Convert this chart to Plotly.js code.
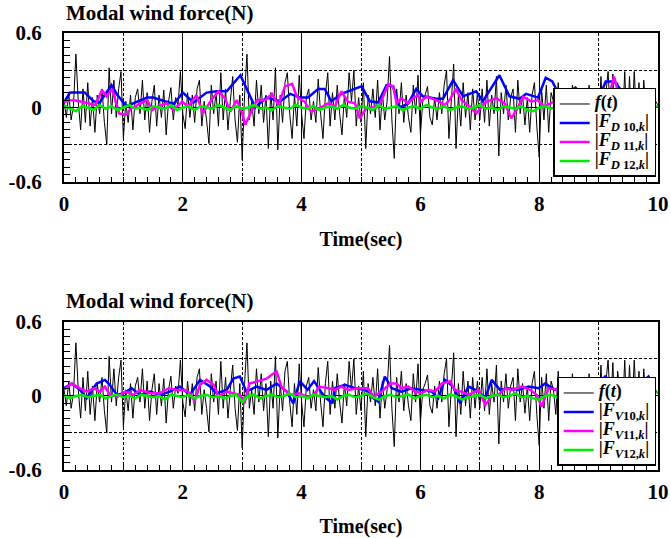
<!DOCTYPE html>
<html>
<head>
<meta charset="utf-8">
<script src="https://cdn.plot.ly/plotly-3.0.1.min.js"></script>
<style>html,body{margin:0;padding:0;background:#fff;}#chart{width:671px;height:538px;}</style>
</head>
<body>
<div id="chart"></div>
<script>
// ---- data ----
const fDt = 0.04; // sampling step of f(t), s
const fVals = [
 0.05,-0.08,0.12,-0.10,0.02,0.43,0.05,-0.18,0.15,-0.12,0.20,-0.15,0.08,-0.20,0.10,-0.05,0.15,-0.12,-0.30,0.32,-0.05,0.22,-0.08,0.15,0.29,
 -0.25,0.05,-0.12,0.10,-0.18,0.08,0.15,-0.05,0.22,-0.10,0.12,-0.20,0.05,0.18,-0.15,0.10,-0.08,0.14,-0.22,0.05,0.16,-0.10,0.08,0.02,0.29,
 -0.05,-0.17,0.12,-0.08,0.10,-0.12,0.15,0.22,-0.15,0.05,-0.10,-0.29,0.18,-0.05,0.12,-0.15,0.28,-0.10,0.15,-0.18,0.05,0.25,-0.10,-0.28,0.10,
 -0.42,0.10,0.43,-0.10,0.05,-0.15,0.22,-0.05,0.18,-0.12,0.10,-0.33,0.12,-0.10,0.32,-0.34,0.10,-0.12,0.20,0.28,-0.05,-0.25,0.10,-0.15,0.26,
 -0.05,-0.25,0.08,0.15,-0.10,0.05,-0.12,0.23,-0.05,-0.25,0.10,0.28,-0.15,0.12,-0.10,0.18,-0.05,-0.22,0.10,-0.08,0.28,0.05,0.30,-0.15,0.08,
 -0.12,0.20,-0.33,0.10,-0.05,0.15,-0.08,0.22,-0.18,0.12,-0.10,0.05,0.41,-0.10,-0.41,0.15,-0.05,0.20,-0.12,0.10,-0.08,-0.20,0.18,-0.05,0.26,
 -0.22,0.05,0.10,0.17,-0.08,-0.14,0.08,-0.10,0.12,-0.05,0.18,0.30,-0.25,0.10,0.35,-0.33,0.10,-0.15,0.20,-0.08,0.12,-0.18,0.15,-0.10,0.12,
 -0.10,0.15,-0.12,0.22,-0.15,0.10,-0.05,0.25,-0.39,0.12,-0.05,0.18,-0.10,0.08,0.15,-0.20,0.22,-0.05,0.10,-0.14,0.08,-0.20,0.10,0.20,-0.15,
 -0.40,0.15,-0.10,0.18,-0.20,0.12,0.05,-0.15,0.20,-0.10,0.12,-0.18,0.15,-0.05,0.18,-0.12,0.10,-0.20,0.15,0.08,-0.10,0.18,-0.15,0.12,-0.08,
 -0.15,0.25,-0.20,0.10,0.29,-0.10,0.27,-0.25,0.20,0.05,-0.15,0.29,-0.20,0.25,-0.15,0.29,-0.10,0.20,-0.25,0.22,-0.05,0.15,-0.12,0.10,0.05,
 0.02
];

const d10T = [0,0.1,0.35,0.5,0.6,0.8,0.9,1.05,1.4,1.5,1.7,1.85,2.0,2.18,2.4,2.57,2.74,2.97,3.22,3.41,3.64,3.81,3.97,4.11,4.28,4.39,4.5,4.67,5.01,5.15,5.29,5.43,5.54,5.65,5.79,5.93,6.04,6.27,6.38,6.55,6.72,6.94,7.05,7.33,7.5,7.67,7.78,7.98,8.11,8.22,8.36,8.61,8.81,8.98,9.12,9.26,9.54,9.76,9.95];
const d10V = [0.04,0.12,0.12,0.05,0.04,0.18,0.1,0.01,0.08,0.08,0.05,0.03,0.12,0.04,0.12,0.13,0.13,0.26,0.0,0.08,0.05,0.11,0.08,0.08,0.15,0.15,0.05,0.11,0.17,0.05,0.04,0.18,0.17,0.0,0.03,0.15,0.09,0.07,0.07,0.22,0.09,0.13,0.05,0.26,0.09,0.07,0.11,0.08,0.24,0.21,0.08,0.16,0.06,0.05,0.21,0.21,0.05,0.09,0.06];

const d11T = [0,0.15,0.3,0.53,0.64,0.72,0.81,0.87,0.93,1.04,1.14,1.4,1.48,1.65,1.73,1.84,1.99,2.09,2.23,2.34,2.48,2.6,2.71,2.8,2.91,3.0,3.05,3.14,3.25,3.39,3.5,3.61,3.72,3.84,3.92,4.0,4.05,4.16,4.3,4.45,4.56,4.67,4.78,4.9,4.98,5.09,5.29,5.37,5.46,5.54,5.6,5.68,5.79,5.88,5.96,6.01,6.1,6.27,6.41,6.49,6.6,6.69,6.83,6.94,7.11,7.28,7.42,7.53,7.62,7.73,7.87,7.98,8.08,8.25,8.42,8.64,8.75,8.92,9.12,9.26,9.34,9.43,9.54,9.62,9.79,9.95];
const d11V = [0.047,0.06,0.047,0.02,0.14,0.087,0.15,0.06,-0.047,-0.06,-0.006,0.06,-0.02,0.02,0.034,-0.02,0.047,0.007,0.10,-0.047,0.06,0.13,0.074,-0.034,0.06,-0.047,-0.14,-0.047,0.06,0.06,0.11,0.02,0.17,0.19,0.087,0.06,0.047,-0.034,-0.006,0.034,0.007,0.13,0.047,0.034,-0.087,-0.006,0.007,0.087,0.19,0.17,0.034,0.074,0.034,0.074,0.10,0.047,0.087,0.06,0.02,0.06,0.15,0.06,0.007,-0.047,0.047,0.074,0.034,-0.087,-0.02,0.087,0.047,0.06,0.007,0.047,0.007,0.06,0.047,0.02,-0.006,0.25,0.10,0.11,0.14,0.007,0.047,0.08];

const gDt = 0.1;
const d12V = [0.02,-0.01,-0.03,0.01,0.0,-0.02,0.02,-0.01,0.01,-0.02,0.0,0.02,-0.01,0.0,-0.02,0.01,0.0,-0.01,0.02,-0.02,0.0,0.01,-0.02,0.01,0.0,-0.01,0.02,0.0,-0.02,0.01,-0.01,0.0,0.02,-0.01,0.0,-0.02,0.01,0.0,-0.01,0.02,0.0,-0.01,0.01,-0.02,0.0,0.01,-0.01,0.02,0.0,-0.01,0.01,0.0,-0.02,0.02,-0.01,0.0,0.01,-0.02,0.0,0.01,-0.01,0.02,0.0,-0.01,0.01,-0.02,0.0,0.01,-0.01,0.0,0.02,-0.01,0.0,-0.02,0.01,0.0,-0.01,0.01,-0.02,-0.03,0.0,0.01,-0.01,0.0,0.01,-0.01,0.0,0.02,-0.01,0.0,0.01,-0.01,0.0,0.01,-0.01,0.0,0.02,-0.01,0.0,0.01,0.01];

const v10T = [0,0.13,0.27,0.38,0.55,0.69,0.77,0.89,1.0,1.14,1.28,1.45,1.62,1.78,1.95,2.12,2.29,2.46,2.57,2.74,2.85,2.96,3.07,3.24,3.41,3.58,3.75,3.86,3.97,4.1,4.21,4.38,4.52,4.56,4.73,4.9,5.07,5.21,5.29,5.4,5.52,5.68,5.85,6.02,6.19,6.3,6.41,6.55,6.67,6.81,6.98,7.09,7.2,7.34,7.48,7.65,7.82,7.99,8.1,8.27,8.49,8.72,8.94,9.11,9.28,9.45,9.62,9.84,9.95];
const v10V = [0.062,0.10,0.049,-0.019,0.10,0.13,0.09,0.008,0.022,0.062,0.008,0.035,0.008,0.035,0.076,0.008,0.13,0.076,0.022,0.049,0.14,0.157,0.035,0.076,0.049,0.10,0.035,-0.06,0.12,0.049,0.12,-0.005,-0.06,0.062,0.09,0.062,0.049,-0.019,-0.046,0.157,0.062,0.035,0.062,0.049,0.035,-0.019,0.13,0.076,-0.06,0.076,0.035,-0.019,0.13,0.049,0.062,0.049,0.076,0.062,0.10,0.049,0.076,0.049,0.062,0.157,0.09,0.049,0.062,0.157,0.049];

const v11T = [0,0.13,0.27,0.38,0.5,0.61,0.69,0.77,0.91,1.03,1.17,1.28,1.45,1.62,1.76,1.9,2.03,2.12,2.2,2.29,2.4,2.52,2.6,2.74,2.85,2.96,3.04,3.12,3.27,3.41,3.52,3.58,3.66,3.8,3.97,4.08,4.19,4.3,4.46,4.56,4.67,4.79,4.95,5.12,5.21,5.35,5.49,5.6,5.68,5.8,5.91,6.02,6.13,6.25,6.36,6.5,6.58,6.69,6.81,6.98,7.09,7.2,7.31,7.43,7.54,7.71,7.85,7.96,8.04,8.16,8.32,8.49,8.72,8.94,9.11,9.28,9.39,9.5,9.67,9.81,9.95];
const v11V = [0.049,0.10,0.062,0.035,0.062,0.035,0.076,0.008,-0.005,0.035,0.008,0.049,0.022,0.022,0.062,0.049,0.049,0.022,-0.046,0.09,0.13,0.09,-0.005,0.035,0.022,0.008,-0.06,0.10,0.12,0.14,0.18,0.197,0.076,0.008,0.022,-0.005,-0.005,0.076,0.062,0.049,0.076,0.049,0.062,0.062,-0.005,0.035,0.10,0.10,0.062,0.076,0.035,0.022,0.049,0.035,0.10,0.12,0.049,0.035,0.008,0.049,-0.073,-0.005,0.008,0.062,0.049,0.076,0.049,0.008,-0.087,0.062,0.049,0.062,0.049,0.049,0.076,0.049,0.12,0.049,0.062,0.12,0.10];

const v12V = [0.01,-0.02,0.0,0.01,-0.01,0.0,0.01,-0.02,0.0,0.01,-0.01,0.0,-0.02,0.01,0.0,-0.01,0.0,-0.03,0.01,0.0,-0.01,0.01,-0.02,0.0,0.01,-0.01,0.0,-0.02,0.0,0.01,-0.05,0.0,0.01,-0.02,0.0,0.01,-0.01,0.0,0.02,-0.01,0.0,-0.02,0.01,0.0,-0.01,0.0,-0.03,0.0,0.01,-0.01,0.0,0.02,-0.01,-0.03,0.0,0.01,-0.01,0.0,0.01,-0.02,0.0,0.01,-0.01,0.0,-0.02,0.01,0.0,-0.03,-0.01,0.0,0.01,-0.02,0.0,0.01,-0.01,0.0,0.02,-0.01,0.0,-0.02,-0.03,0.0,0.01,-0.01,0.0,0.01,-0.02,0.0,0.01,-0.01,0.0,0.02,-0.01,0.0,0.01,-0.02,0.0,0.01,-0.01,0.02,0.03];

const xTickVals = [0,2,4,6,8,10];
const xDashVals = [1,3,5,7,9];
const yTickVals = [-0.6,-0.3,0,0.3,0.6];
const yTickText = ['-0.6','','0','','0.6'];
const titleText = 'Modal wind force(N)';
const xTitleText = 'Time(sec)';
const namesTop = ['<i>f</i>(<i>t</i>)','|<i>F</i><sub><i>D</i> 10,<i>k</i></sub>|','|<i>F</i><sub><i>D</i> 11,<i>k</i></sub>|','|<i>F</i><sub><i>D</i> 12,<i>k</i></sub>|'];
const namesBot = ['<i>f</i>(<i>t</i>)','|<i>F</i><sub><i>V</i>10,<i>k</i></sub>|','|<i>F</i><sub><i>V</i>11,<i>k</i></sub>|','|<i>F</i><sub><i>V</i>12,<i>k</i></sub>|'];

// ---- build ----
const fT = fVals.map((_, i) => +(i * fDt).toFixed(3));
const gT = d12V.map((_, i) => +(i * gDt).toFixed(3));
const gT2 = v12V.map((_, i) => +(i * gDt).toFixed(3));

const serif = 'Liberation Serif, Times New Roman, serif';
const colors = ['#000000', '#0000ff', '#ff00ff', '#00ee00'];
const big = s => '<span style="font-size:18px">' + s + '</span>';

function mk(x, y, name, ci, xa, ya, leg) {
  return {x, y, name: big(name), type: 'scatter', mode: 'lines', xaxis: xa, yaxis: ya, legend: leg,
    line: {color: colors[ci], width: ci === 0 ? 1 : 2.5}};
}
const traces = [
  mk(fT, fVals, namesTop[0], 0, 'x', 'y', 'legend'),
  mk(d10T, d10V, namesTop[1], 1, 'x', 'y', 'legend'),
  mk(d11T, d11V, namesTop[2], 2, 'x', 'y', 'legend'),
  mk(gT, d12V, namesTop[3], 3, 'x', 'y', 'legend'),
  mk(fT, fVals, namesBot[0], 0, 'x2', 'y2', 'legend2'),
  mk(v10T, v10V, namesBot[1], 1, 'x2', 'y2', 'legend2'),
  mk(v11T, v11V, namesBot[2], 2, 'x2', 'y2', 'legend2'),
  mk(gT2, v12V, namesBot[3], 3, 'x2', 'y2', 'legend2'),
  {x: [], y: [], xaxis: 'x3', yaxis: 'y', showlegend: false, type: 'scatter'},
  {x: [], y: [], xaxis: 'x4', yaxis: 'y2', showlegend: false, type: 'scatter'}
];

const tickFont = {family: serif, size: 21, color: '#000', weight: 'bold'};
const dash = '3px,2px';
function xAxis(anchor) {
  return {anchor, range: [0, 10], tickvals: xTickVals, ticktext: xTickVals.map(String),
    showgrid: true, gridcolor: '#000', gridwidth: 1,
    ticks: 'inside', ticklen: 7, tickwidth: 1, tickcolor: '#000',
    minor: {tickmode: 'linear', tick0: 0, dtick: 0.2, ticks: 'inside', ticklen: 5, tickwidth: 1, tickcolor: '#000', showgrid: false},
    showline: true, linewidth: 2, linecolor: '#000', mirror: true, zeroline: false,
    tickfont: tickFont, ticklabelstandoff: 2,
    title: {text: xTitleText, font: {family: serif, size: 20, color: '#000', weight: 'bold'}, standoff: 17}};
}
function xOver(over, anchor) {
  return {overlaying: over, anchor, range: [0, 10], tickvals: xDashVals, showticklabels: false,
    ticks: '', showgrid: true, gridcolor: '#000', gridwidth: 1, griddash: dash, showline: false, zeroline: false};
}
function yAxis(anchor, domain) {
  return {anchor, domain, range: [-0.6, 0.6], tickvals: yTickVals, ticktext: yTickText,
    showgrid: true, gridcolor: '#000', gridwidth: 1, griddash: dash,
    zeroline: true, zerolinecolor: '#000', zerolinewidth: 1,
    ticks: 'inside', ticklen: 7, tickwidth: 1, tickcolor: '#000',
    minor: {tickmode: 'linear', tick0: 0, dtick: 0.06, ticks: 'inside', ticklen: 6, tickwidth: 1, tickcolor: '#000', showgrid: false},
    showline: true, linewidth: 2, linecolor: '#000', mirror: true,
    tickfont: tickFont, ticklabelstandoff: 16};
}
const legFont = {family: serif, size: 10, color: '#000', weight: 'bold'};
function legend(y) {
  return {x: 0.997, xanchor: 'right', y, yanchor: 'bottom', xref: 'paper', yref: 'paper',
    bgcolor: '#fff', bordercolor: '#000', borderwidth: 1.5, font: legFont,
    tracegroupgap: 0, itemwidth: 30};
}

const layout = {
  width: 671, height: 538,
  margin: {l: 64, r: 13, t: 33, b: 68},
  paper_bgcolor: '#fff', plot_bgcolor: '#fff',
  showlegend: true,
  xaxis: xAxis('y'),
  xaxis2: xAxis('y2'),
  xaxis3: xOver('x', 'y'),
  xaxis4: xOver('x2', 'y2'),
  yaxis: yAxis('x', [0.659, 1]),
  yaxis2: yAxis('x2', [0, 0.339]),
  legend: legend(0.6705),
  legend2: legend(0.0092),
  annotations: [
    {text: titleText, xref: 'paper', yref: 'paper', x: 0, xanchor: 'left', y: 1 + 20 / 437, yanchor: 'middle', showarrow: false,
      font: {family: serif, size: 21, color: '#000', weight: 'bold'}},
    {text: titleText, xref: 'paper', yref: 'paper', x: 0, xanchor: 'left', y: 0.339 + 21 / 437, yanchor: 'middle', showarrow: false,
      font: {family: serif, size: 21, color: '#000', weight: 'bold'}}
  ]
};

Plotly.newPlot('chart', traces, layout, {displayModeBar: false, staticPlot: true});
</script>
</body>
</html>
